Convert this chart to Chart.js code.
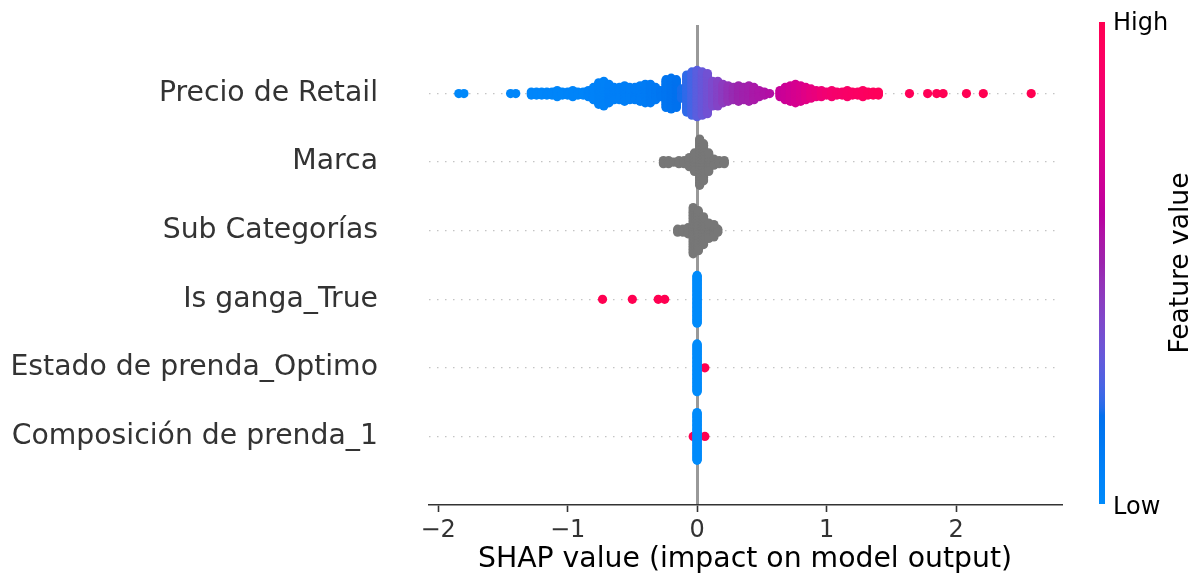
<!DOCTYPE html>
<html><head><meta charset="utf-8">
<script src="https://cdn.jsdelivr.net/npm/chart.js@4.4.1/dist/chart.umd.min.js"></script>
<style>html,body{margin:0;padding:0;background:#fff;}#wrap{width:1193px;height:578px;}</style>
</head><body><div id="wrap"><canvas id="c" width="1193" height="578"></canvas></div>
<script>
// Feature names, top row first
const featureNames = ["Precio de Retail", "Marca", "Sub Categorías", "Is ganga_True", "Estado de prenda_Optimo", "Composición de prenda_1"];
const xTickValues = [-2, -1, 0, 1, 2];
const xTitle = "SHAP value (impact on model output)";
const colorbarLabels = { high: "High", low: "Low", title: "Feature value" };

// Each row: SHAP value bins, number of points in each bin, feature value (0 = low, 1 = high; null = gray)
const precioShap = [-1.84,-1.80,-1.44,-1.40,-1.28,-1.24,-1.20,-1.16,-1.12,-1.08,-1.04,-1.00,-0.96,-0.92,-0.88,-0.84,-0.80,-0.76,-0.72,-0.68,-0.64,-0.60,-0.56,-0.52,-0.48,-0.44,-0.40,-0.36,-0.32,-0.28,-0.24,-0.20,-0.16,-0.12,-0.08,-0.04,0.00,0.04,0.08,0.12,0.16,0.20,0.24,0.28,0.32,0.36,0.40,0.44,0.48,0.52,0.56,0.64,0.68,0.72,0.76,0.80,0.84,0.88,0.92,0.96,1.00,1.04,1.08,1.12,1.16,1.20,1.24,1.28,1.32,1.36,1.40,1.64,1.78,1.85,1.90,2.08,2.21,2.58];
const precioCount = [1,1,1,1,3,3,3,3,3,5,3,3,5,3,3,5,9,15,17,13,9,9,11,9,9,11,13,13,9,5,19,21,19,7,25,29,31,29,27,17,17,13,11,9,11,9,11,9,5,3,1,5,9,11,13,11,9,7,5,5,3,5,3,3,5,3,3,5,3,3,3,1,1,1,1,1,1,1];
const precioValue = [0.02,0.02,0.03,0.03,0.03,0.03,0.03,0.04,0.04,0.04,0.04,0.05,0.05,0.05,0.05,0.06,0.06,0.07,0.07,0.08,0.08,0.08,0.09,0.09,0.10,0.10,0.11,0.12,0.13,0.14,0.15,0.16,0.17,0.19,0.21,0.24,0.28,0.31,0.34,0.37,0.40,0.43,0.46,0.48,0.50,0.51,0.52,0.54,0.55,0.56,0.57,0.64,0.66,0.68,0.70,0.72,0.75,0.78,0.80,0.83,0.85,0.87,0.88,0.89,0.90,0.91,0.92,0.93,0.94,0.95,0.96,0.97,0.98,0.98,0.99,0.99,1.00,1.00];

const marcaShap = [-0.26,-0.22,-0.18,-0.14,-0.10,-0.06,-0.02,0.02,0.05,0.09,0.13,0.17,0.21];
const marcaCount = [3,3,1,3,3,7,13,31,25,13,5,3,3];

const subShap = [-0.15,-0.11,-0.07,-0.03,0.01,0.05,0.09,0.13,0.16];
const subCount = [3,3,5,31,27,19,11,9,3];

const gangaShap = [-0.73,-0.50,-0.30,-0.25,0.00];
const gangaCount = [1,1,1,1,61];
const gangaValue = [1,1,1,1,0];

const estadoShap = [0.06,0.00];
const estadoCount = [1,61];
const estadoValue = [1,0];

const composShap = [-0.03,0.06,0.00];
const composCount = [1,1,61];
const composValue = [1,1,0];

// ---- shap red_blue colormap (LCH interpolation) ----
function lchToRgb(L, C, H) {
  const a = C * Math.cos(H), b = C * Math.sin(H);
  const fy = (L + 16) / 116, fx = fy + a / 500, fz = fy - b / 200;
  const finv = t => t > 6/29 ? t*t*t : 3*(6/29)*(6/29)*(t - 4/29);
  const X = 0.95047 * finv(fx), Y = finv(fy), Z = 1.08883 * finv(fz);
  let r = 3.2406*X - 1.5372*Y - 0.4986*Z;
  let g = -0.9689*X + 1.8758*Y + 0.0415*Z;
  let bb = 0.0557*X - 0.2040*Y + 1.0570*Z;
  const gam = v => { v = Math.min(1, Math.max(0, v)); return v <= 0.0031308 ? 12.92*v : 1.055*Math.pow(v, 1/2.4) - 0.055; };
  return [Math.round(gam(r)*255), Math.round(gam(g)*255), Math.round(gam(bb)*255)];
}
function cmap(t) {
  const L = t < 0.5 ? 54 + (40 - 54) * (t / 0.5) : 40 + (54 - 40) * ((t - 0.5) / 0.5);
  const C = 70 + 20 * t;
  const H = 4.6588 + ((0.35470565 + 2*Math.PI) - 4.6588) * t;
  const [r, g, b] = lchToRgb(L, C, H);
  return `rgb(${r},${g},${b})`;
}
const GRAY = '#777777';

// Beeswarm layout like shap: within each bin, points alternate above/below the row
function buildRow(rowIndex, shaps, counts, values) {
  let maxLayer = 0;
  counts.forEach(n => { maxLayer = Math.max(maxLayer, Math.ceil((n - 1) / 2)); });
  const step = 0.36 / (maxLayer + 1);
  const pts = [], cols = [];
  shaps.forEach((s, i) => {
    for (let k = 0; k < counts[i]; k++) {
      const off = Math.ceil(k / 2) * ((k % 2) * 2 - 1);
      pts.push({ x: s, y: rowIndex + off * step });
      cols.push(values ? cmap(values[i]) : GRAY);
    }
  });
  return { pts, cols };
}

const nRows = featureNames.length;
const rows = [
  buildRow(nRows - 1, precioShap, precioCount, precioValue),
  buildRow(nRows - 2, marcaShap, marcaCount, null),
  buildRow(nRows - 3, subShap, subCount, null),
  buildRow(nRows - 4, gangaShap, gangaCount, gangaValue),
  buildRow(nRows - 5, estadoShap, estadoCount, estadoValue),
  buildRow(nRows - 6, composShap, composCount, composValue)
];

const datasets = rows.map((r, i) => ({
  label: featureNames[i],
  data: r.pts,
  pointBackgroundColor: r.cols,
  pointBorderWidth: 0,
  pointRadius: 4.6,
  pointHoverRadius: 4.6
}));

const FONT = "'DejaVu Sans', sans-serif";

const colorbarPlugin = {
  id: 'colorbar',
  afterDraw(chart) {
    const ctx = chart.ctx, ca = chart.chartArea;
    const top = ca.top - 3, bottom = ca.bottom - 1, x = ca.right + 38, w = 6;
    const grad = ctx.createLinearGradient(0, bottom, 0, top);
    for (let i = 0; i <= 60; i++) grad.addColorStop(i / 60, cmap(i / 60));
    ctx.save();
    ctx.fillStyle = grad;
    ctx.fillRect(x, top, w, bottom - top);
    ctx.fillStyle = '#000';
    ctx.font = `24px ${FONT}`;
    ctx.textAlign = 'left';
    ctx.textBaseline = 'middle';
    ctx.fillText(colorbarLabels.high, x + w + 8, top + 2);
    ctx.fillText(colorbarLabels.low, x + w + 8, bottom + 4);
    ctx.translate(x + 82, (top + bottom) / 2);
    ctx.rotate(-Math.PI / 2);
    ctx.textAlign = 'center';
    ctx.font = `26.5px ${FONT}`;
    ctx.fillText(colorbarLabels.title, 0, 0);
    ctx.restore();
  }
};

new Chart(document.getElementById('c'), {
  type: 'scatter',
  data: { datasets },
  options: {
    responsive: false,
    animation: false,
    devicePixelRatio: 1,
    events: [],
    layout: { padding: { left: 0, right: 132, top: 25, bottom: 0 } },
    plugins: { legend: { display: false }, tooltip: { enabled: false } },
    scales: {
      x: {
        type: 'linear',
        min: -2.07, max: 2.81,
        afterBuildTicks: s => { s.ticks = xTickValues.map(v => ({ value: v })); },
        afterFit: s => { s.height = 73; s.paddingLeft = 0; s.paddingRight = 0; },
        grid: {
          drawTicks: true,
          tickLength: 7,
          tickWidth: 1.6,
          tickColor: '#333333',
          lineWidth: 3,
          color: c => (c.tick && c.tick.value === 0) ? '#999999' : 'rgba(0,0,0,0)'
        },
        border: { display: true, color: '#333333', width: 1.6 },
        ticks: {
          color: '#333333',
          font: { family: FONT, size: 24 },
          padding: 4,
          callback: v => (v < 0 ? '\u2212' + Math.abs(v) : String(v))
        },
        title: {
          display: true, text: xTitle, color: '#000',
          font: { family: FONT, size: 28.3 },
          padding: { top: 0, bottom: 1 }
        }
      },
      y: {
        type: 'linear',
        min: -1, max: nRows,
        afterBuildTicks: s => { s.ticks = featureNames.map((_, i) => ({ value: i })); },
        afterFit: s => { s.width = 429; s.paddingTop = 0; s.paddingBottom = 0; },
        grid: { drawTicks: false, lineWidth: 1.3, color: '#c4c4c4' },
        border: { display: false, dash: [1.5, 6.5] },
        ticks: {
          color: '#333333',
          font: { family: FONT, size: 28.3 },
          padding: 51,
          autoSkip: false,
          callback: v => featureNames[nRows - 1 - v] || ''
        }
      }
    }
  },
  plugins: [colorbarPlugin]
});
</script></body></html>
